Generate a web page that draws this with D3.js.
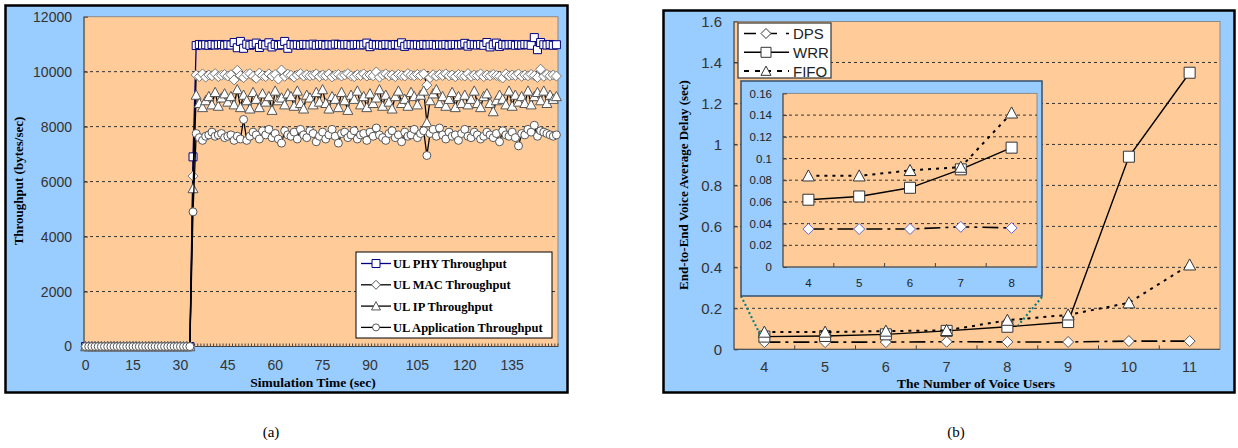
<!DOCTYPE html>
<html>
<head>
<meta charset="utf-8">
<script src="https://cdn.jsdelivr.net/npm/d3@7"></script>
<style>
body { margin: 0; background: #fff; }
svg { display: block; }
</style>
</head>
<body>
<svg id="fig" width="1238" height="448"></svg>
<script>
// ---------- data, chart (a) ----------
const secs = d3.range(150);                      // simulation seconds 0..149
const secTicks = [0, 15, 30, 45, 60, 75, 90, 105, 120, 135];
const thrTicks = [0, 2000, 4000, 6000, 8000, 10000, 12000];
const idle = [0,0,0,0,0,0,0,0,0,0, 0,0,0,0,0,0,0,0,0,0, 0,0,0,0,0,0,0,0,0,0, 0,0,0,0];

const phyVals = idle.concat([6900,
  10950,10990,10970,10980,10960,10990,10970,10980,10990,10960,
  10980,10970,11060,10870,11100,10850,11000,10960,10990,11040,
  10880,10990,10970,11050,10900,10990,10960,10980,11100,10850,
  10990,10970,10980,10960,10990,10980,10970,11000,10960,10980,
  10990,10960,10980,10970,11000,10990,10970,10980,10990,10960,
  10980,10990,10970,10980,11040,10910,10990,10970,10980,10960,
  10990,10980,10960,10990,10970,11050,10920,10980,10990,10970,
  10980,10960,10990,10970,10980,10990,10960,10980,10970,10990,
  10960,10980,10990,10970,10980,11030,10930,10990,10980,10970,
  10990,10960,11060,10900,10980,11040,10920,10990,10970,10980,
  10990,10960,10980,10970,10990,10980,10960,11240,10800,11060,
  10980,10970,10990,10960,10980]);

const macVals = idle.concat([6200,
  9880,9820,9920,9800,9880,9850,9930,9820,9870,9900,
  9840,9890,9700,10050,9860,9780,9900,9930,9830,9760,
  9950,9860,9820,9920,9840,9900,9730,10060,9830,9910,
  9870,9800,9880,9930,9840,9890,9850,9870,9920,9820,
  9880,9850,9920,9810,9870,9900,9840,9880,9930,9850,
  9820,9890,9860,9920,9840,9880,9850,9990,9800,9880,
  9920,9850,9880,9820,9900,9860,9840,9930,9870,9850,
  9900,9860,9920,9510,9780,9890,9840,9900,9860,9920,
  9850,9880,9820,9900,9860,9840,9930,9830,9880,9860,
  9920,9820,9880,9850,9900,9860,9830,9770,9920,9850,
  9880,9860,9920,9830,9880,9850,9900,9860,9790,10090,
  9830,9900,9850,9880,9840]);

const ipVals = idle.concat([5750,
  9150,8850,8700,8950,9100,8800,9250,8750,9050,9200,
  8900,9100,8800,9350,8700,9150,8950,8650,9250,9000,
  8700,9200,8900,9100,8600,9300,8950,9050,8800,9200,
  9100,8750,9300,8850,8650,9150,9050,8800,9250,8900,
  9350,8850,8650,9100,9000,8700,9250,8950,8600,9150,
  9000,9300,8800,9100,8700,9200,8850,9050,9350,8750,
  9150,8900,8650,9100,9300,8850,9000,8750,9250,9100,
  8800,9150,9300,8150,8950,9200,9350,8850,9100,8750,
  9000,9250,8700,9100,8850,9150,8800,9000,9300,8850,
  8700,9100,9200,8850,8550,8950,9150,9000,8800,9300,
  8750,9150,8900,9100,8850,9300,8800,9100,9250,8950,
  9300,8850,9150,9000,9100]);

const appVals = idle.concat([4900,
  7750,7600,7500,7650,7700,7800,7650,7700,7750,7600,
  7650,7700,7500,7650,7550,8260,7500,7650,7800,7700,
  7550,7850,7700,7900,7600,7750,7550,7400,7850,7700,
  7650,7800,7550,7900,7700,7600,7850,7750,7450,7650,
  7800,7550,7700,7900,7650,7400,7750,7800,7600,7700,
  7850,7550,7700,7750,7500,7800,7650,7950,7700,7600,
  7500,7750,7850,7600,7700,7450,7800,7650,7700,7900,
  7600,7750,7850,6950,7750,7900,7650,7950,7700,7550,
  7800,7650,7700,7500,7750,7900,7650,7600,7800,7700,
  7550,7650,7800,7700,7600,7750,7450,7850,7700,7650,
  7800,7600,7300,7750,7700,7900,7800,8050,7650,7850,
  7800,7750,7700,7650,7700]);

// ---------- data, chart (b) ----------
const users = [4, 5, 6, 7, 8, 9, 10, 11];
const insetUsers = [4, 5, 6, 7, 8];
const dpsVals  = [0.035, 0.035, 0.035, 0.037, 0.036, 0.036, 0.040, 0.040];
const wrrVals  = [0.062, 0.065, 0.073, 0.090, 0.110, 0.133, 0.940, 1.350];
const fifoVals = [0.084, 0.084, 0.089, 0.092, 0.142, 0.168, 0.227, 0.412];
const delayTicks = [0, 0.2, 0.4, 0.6, 0.8, 1, 1.2, 1.4, 1.6];
const insetTicks = [0, 0.02, 0.04, 0.06, 0.08, 0.1, 0.12, 0.14, 0.16];

const BLUE = "#99ccff", PEACH = "#ffcc99";
const numFont = "'Liberation Sans', Arial, sans-serif";
const serif = "'Liberation Serif', 'Times New Roman', serif";

const svg = d3.select("#fig");

// marker shapes, centred on 0,0
function markPath(type, s) {
  const h = s / 2;
  if (type === "square") return `M${-h},${-h}h${s}v${s}h${-s}Z`;
  if (type === "diamond") return `M0,${-h}L${h},0L0,${h}L${-h},0Z`;
  if (type === "triangle") return `M0,${-h}L${h},${h * 0.85}L${-h},${h * 0.85}Z`;
  return `M${h},0A${h},${h} 0 1,1 ${-h},0A${h},${h} 0 1,1 ${h},0Z`;
}

function series(g, keys, vals, x, y, o) {
  const pts = keys.map((k, i) => ({ k: k, v: vals[i] }));
  const cx = d => x(d.k) + x.bandwidth() / 2;
  g.append("path").datum(pts)
    .attr("fill", "none")
    .attr("stroke", o.line)
    .attr("stroke-width", o.lw)
    .attr("stroke-dasharray", o.dash || null)
    .attr("d", d3.line().x(cx).y(d => y(d.v)));
  g.selectAll(null).data(pts).join("path")
    .attr("transform", d => `translate(${cx(d)},${y(d.v)})`)
    .attr("d", markPath(o.shape, o.size))
    .attr("fill", "#fff")
    .attr("stroke", o.mstroke)
    .attr("stroke-width", o.msw || 1);
}

function styleTicks(ax, size, fill) {
  ax.select(".domain").remove();
  ax.selectAll("text").attr("font-family", numFont).attr("font-size", size).attr("fill", fill);
}

// =============== chart (a) ===============
const A = { l: 84, r: 558, t: 16.7, b: 346.5 };
svg.append("rect").attr("x", 5.5).attr("y", 5.5).attr("width", 562).attr("height", 387)
  .attr("fill", BLUE).attr("stroke", "#000").attr("stroke-width", 2.5);
svg.append("rect").attr("x", A.l).attr("y", A.t).attr("width", A.r - A.l).attr("height", A.b - A.t)
  .attr("fill", PEACH).attr("stroke", "#8a8a8a").attr("stroke-width", 1);

const xA = d3.scaleBand().domain(secs).range([A.l, A.r]);
const yA = d3.scaleLinear().domain([0, 12000]).range([A.b, A.t]);

const gA = svg.append("g");
gA.append("g").selectAll("line").data(thrTicks.filter(v => v > 0 && v < 12000)).join("line")
  .attr("x1", A.l).attr("x2", A.r).attr("y1", d => yA(d)).attr("y2", d => yA(d))
  .attr("stroke", "#333").attr("stroke-dasharray", "3,3");

// category tick marks along the bottom
gA.append("g").selectAll("line").data(secs.concat([150])).join("line")
  .attr("x1", d => d < 150 ? xA(d) : A.r).attr("x2", d => d < 150 ? xA(d) : A.r)
  .attr("y1", A.b).attr("y2", A.b - 3).attr("stroke", "#444");
gA.append("line").attr("x1", A.l).attr("x2", A.l).attr("y1", A.t).attr("y2", A.b).attr("stroke", "#444");
gA.append("line").attr("x1", A.l).attr("x2", A.r).attr("y1", A.b).attr("y2", A.b).attr("stroke", "#444");

const axYA = gA.append("g").attr("transform", `translate(${A.l},0)`)
  .call(d3.axisLeft(yA).tickValues(thrTicks).tickFormat(d3.format("d"))
    .tickSizeInner(-4).tickSizeOuter(0).tickPadding(12));
styleTicks(axYA, 14, "#333");
axYA.selectAll("line").attr("stroke", "#444");
const axXA = gA.append("g").attr("transform", `translate(0,${A.b})`)
  .call(d3.axisBottom(xA).tickValues(secTicks).tickSize(0).tickPadding(14));
styleTicks(axXA, 14, "#333");

series(gA, secs, phyVals, xA, yA, { line: "#000080", lw: 1.3, shape: "square", size: 8, mstroke: "#000080" });
series(gA, secs, macVals, xA, yA, { line: "#000", lw: 1.3, shape: "diamond", size: 10, mstroke: "#777" });
series(gA, secs, ipVals, xA, yA, { line: "#000", lw: 1.3, shape: "triangle", size: 10, mstroke: "#555" });
series(gA, secs, appVals, xA, yA, { line: "#000", lw: 1.3, shape: "circle", size: 8, mstroke: "#555" });

gA.append("text").attr("transform", "translate(23,181) rotate(-90)").attr("text-anchor", "middle")
  .attr("font-family", serif).attr("font-weight", "bold").attr("font-size", 13).text("Throughput (bytes/sec)");
gA.append("text").attr("x", 313).attr("y", 387).attr("text-anchor", "middle")
  .attr("font-family", serif).attr("font-weight", "bold").attr("font-size", 13.5).text("Simulation Time (sec)");

// legend (a)
const legA = [
  { name: "UL PHY Throughput", shape: "square", stroke: "#000080", line: "#000080", size: 8 },
  { name: "UL MAC Throughput", shape: "diamond", stroke: "#555", line: "#000", size: 9 },
  { name: "UL IP Throughput", shape: "triangle", stroke: "#555", line: "#000", size: 9 },
  { name: "UL Application Throughput", shape: "circle", stroke: "#555", line: "#000", size: 7 }
];
const lgA = gA.append("g");
lgA.append("rect").attr("x", 356).attr("y", 252).attr("width", 196).attr("height", 86)
  .attr("fill", "#fff").attr("stroke", "#000").attr("stroke-width", 1);
legA.forEach((d, i) => {
  const y = 263.5 + i * 21.3;
  lgA.append("line").attr("x1", 361).attr("x2", 391).attr("y1", y).attr("y2", y).attr("stroke", d.line).attr("stroke-width", 1.3);
  lgA.append("path").attr("transform", `translate(376,${y})`).attr("d", markPath(d.shape, d.size))
    .attr("fill", "#fff").attr("stroke", d.stroke);
  lgA.append("text").attr("x", 393).attr("y", y + 4.5).attr("font-family", serif).attr("font-weight", "bold")
    .attr("font-size", 12.5).text(d.name);
});

// =============== chart (b) ===============
const B = { l: 734, r: 1220, t: 21.5, b: 349.3 };
svg.append("rect").attr("x", 663.5).attr("y", 10.5).attr("width", 571).attr("height", 382)
  .attr("fill", BLUE).attr("stroke", "#000").attr("stroke-width", 2.5);
svg.append("rect").attr("x", B.l).attr("y", B.t).attr("width", B.r - B.l).attr("height", B.b - B.t)
  .attr("fill", PEACH).attr("stroke", "#8a8a8a").attr("stroke-width", 1);

const xB = d3.scaleBand().domain(users).range([B.l, B.r]);
const yB = d3.scaleLinear().domain([0, 1.6]).range([B.b, B.t]);
const gB = svg.append("g");
gB.append("g").selectAll("line").data(delayTicks.filter(v => v > 0 && v < 1.6)).join("line")
  .attr("x1", B.l).attr("x2", B.r).attr("y1", d => yB(d)).attr("y2", d => yB(d))
  .attr("stroke", "#333").attr("stroke-dasharray", "3,3");
gB.append("g").selectAll("line").data(users.slice(1)).join("line")
  .attr("x1", d => xB(d)).attr("x2", d => xB(d)).attr("y1", B.b).attr("y2", B.b - 4).attr("stroke", "#444");
gB.append("line").attr("x1", B.l).attr("x2", B.l).attr("y1", B.t).attr("y2", B.b).attr("stroke", "#444");
gB.append("line").attr("x1", B.l).attr("x2", B.r).attr("y1", B.b).attr("y2", B.b).attr("stroke", "#444");

const axYB = gB.append("g").attr("transform", `translate(${B.l},0)`)
  .call(d3.axisLeft(yB).tickValues(delayTicks).tickFormat(d3.format("~g")).tickSizeInner(-4).tickSizeOuter(0).tickPadding(12));
styleTicks(axYB, 15, "#333");
axYB.selectAll("line").attr("stroke", "#444");
const axXB = gB.append("g").attr("transform", `translate(0,${B.b})`)
  .call(d3.axisBottom(xB).tickSize(0).tickPadding(12));
styleTicks(axXB, 14.5, "#333");

const dpsStyle = { line: "#000", lw: 1.6, dash: "16,5,3,5", shape: "diamond", size: 11, mstroke: "#555" };
const wrrStyle = { line: "#000", lw: 1.4, shape: "square", size: 11, mstroke: "#333" };
const fifoStyle = { line: "#000", lw: 2, dash: "3,5", shape: "triangle", size: 12, mstroke: "#333" };
series(gB, users, dpsVals, xB, yB, dpsStyle);
series(gB, users, wrrVals, xB, yB, wrrStyle);
series(gB, users, fifoVals, xB, yB, fifoStyle);

gB.append("text").attr("transform", "translate(688,185) rotate(-90)").attr("text-anchor", "middle")
  .attr("font-family", serif).attr("font-weight", "bold").attr("font-size", 13).text("End-to-End Voice Average Delay (sec)");
gB.append("text").attr("x", 976).attr("y", 388).attr("text-anchor", "middle")
  .attr("font-family", serif).attr("font-weight", "bold").attr("font-size", 13.5).text("The Number of Voice Users");

// zoom connectors
const bw = xB.bandwidth();
const conn = [
  [[741, 296], [xB(4) + bw / 2 - 4, yB(0.07)]],
  [[1042, 297], [xB(8) + bw / 2 + 11, yB(0.118)]]
];
gB.append("g").selectAll("line").data(conn).join("line")
  .attr("x1", d => d[0][0]).attr("y1", d => d[0][1]).attr("x2", d => d[1][0]).attr("y2", d => d[1][1])
  .attr("stroke", "#008080").attr("stroke-width", 2.2).attr("stroke-dasharray", "2,2.5");

// inset
const C = { l: 783, r: 1037, t: 93.4, b: 267 };
gB.append("rect").attr("x", 741).attr("y", 81).attr("width", 301).attr("height", 215)
  .attr("fill", BLUE).attr("stroke", "#34506e").attr("stroke-width", 1.5);
gB.append("rect").attr("x", C.l).attr("y", C.t).attr("width", C.r - C.l).attr("height", C.b - C.t)
  .attr("fill", PEACH).attr("stroke", "#8a8a8a").attr("stroke-width", 1);
const xC = d3.scaleBand().domain(insetUsers).range([C.l, C.r]);
const yC = d3.scaleLinear().domain([0, 0.16]).range([C.b, C.t]);
const gC = gB.append("g");
gC.append("g").selectAll("line").data(insetTicks.filter(v => v > 0 && v < 0.16)).join("line")
  .attr("x1", C.l).attr("x2", C.r).attr("y1", d => yC(d)).attr("y2", d => yC(d))
  .attr("stroke", "#333").attr("stroke-dasharray", "3,3");
gC.append("g").selectAll("line").data(insetUsers.slice(1)).join("line")
  .attr("x1", d => xC(d)).attr("x2", d => xC(d)).attr("y1", C.b).attr("y2", C.b - 4).attr("stroke", "#444");
gC.append("line").attr("x1", C.l).attr("x2", C.l).attr("y1", C.t).attr("y2", C.b).attr("stroke", "#444");
gC.append("line").attr("x1", C.l).attr("x2", C.r).attr("y1", C.b).attr("y2", C.b).attr("stroke", "#444");
const axYC = gC.append("g").attr("transform", `translate(${C.l},0)`)
  .call(d3.axisLeft(yC).tickValues(insetTicks).tickFormat(d3.format("~g")).tickSizeInner(-4).tickSizeOuter(0).tickPadding(11));
styleTicks(axYC, 11.5, "#222");
axYC.selectAll("line").attr("stroke", "#444");
const axXC = gC.append("g").attr("transform", `translate(0,${C.b})`)
  .call(d3.axisBottom(xC).tickSize(0).tickPadding(12));
styleTicks(axXC, 11.5, "#222");

series(gC, insetUsers, dpsVals.slice(0, 5), xC, yC, Object.assign({}, dpsStyle, { mstroke: "#6666cc" }));
series(gC, insetUsers, wrrVals.slice(0, 5), xC, yC, wrrStyle);
series(gC, insetUsers, fifoVals.slice(0, 5), xC, yC, fifoStyle);

// legend (b)
const legB = [
  { name: "DPS", st: dpsStyle },
  { name: "WRR", st: wrrStyle },
  { name: "FIFO", st: fifoStyle }
];
const lgB = gB.append("g");
lgB.append("rect").attr("x", 738).attr("y", 23).attr("width", 93).attr("height", 55)
  .attr("fill", "#fff").attr("stroke", "#333").attr("stroke-width", 1.2);
legB.forEach((d, i) => {
  const y = 33.5 + i * 18.8;
  lgB.append("line").attr("x1", 744).attr("x2", 789).attr("y1", y).attr("y2", y)
    .attr("stroke", "#000").attr("stroke-width", d.st.lw).attr("stroke-dasharray", d.st.dash ? (i === 0 ? "12,9" : "5,6") : null);
  lgB.append("path").attr("transform", `translate(766,${y})`).attr("d", markPath(d.st.shape, 10))
    .attr("fill", "#fff").attr("stroke", "#333");
  lgB.append("text").attr("x", 793).attr("y", y + 5.5).attr("font-family", numFont).attr("font-size", 15)
    .attr("fill", "#222").text(d.name);
});

// captions
svg.append("text").attr("x", 271).attr("y", 437).attr("text-anchor", "middle")
  .attr("font-family", serif).attr("font-size", 15).text("(a)");
svg.append("text").attr("x", 956).attr("y", 437).attr("text-anchor", "middle")
  .attr("font-family", serif).attr("font-size", 15).text("(b)");
</script>
</body>
</html>
